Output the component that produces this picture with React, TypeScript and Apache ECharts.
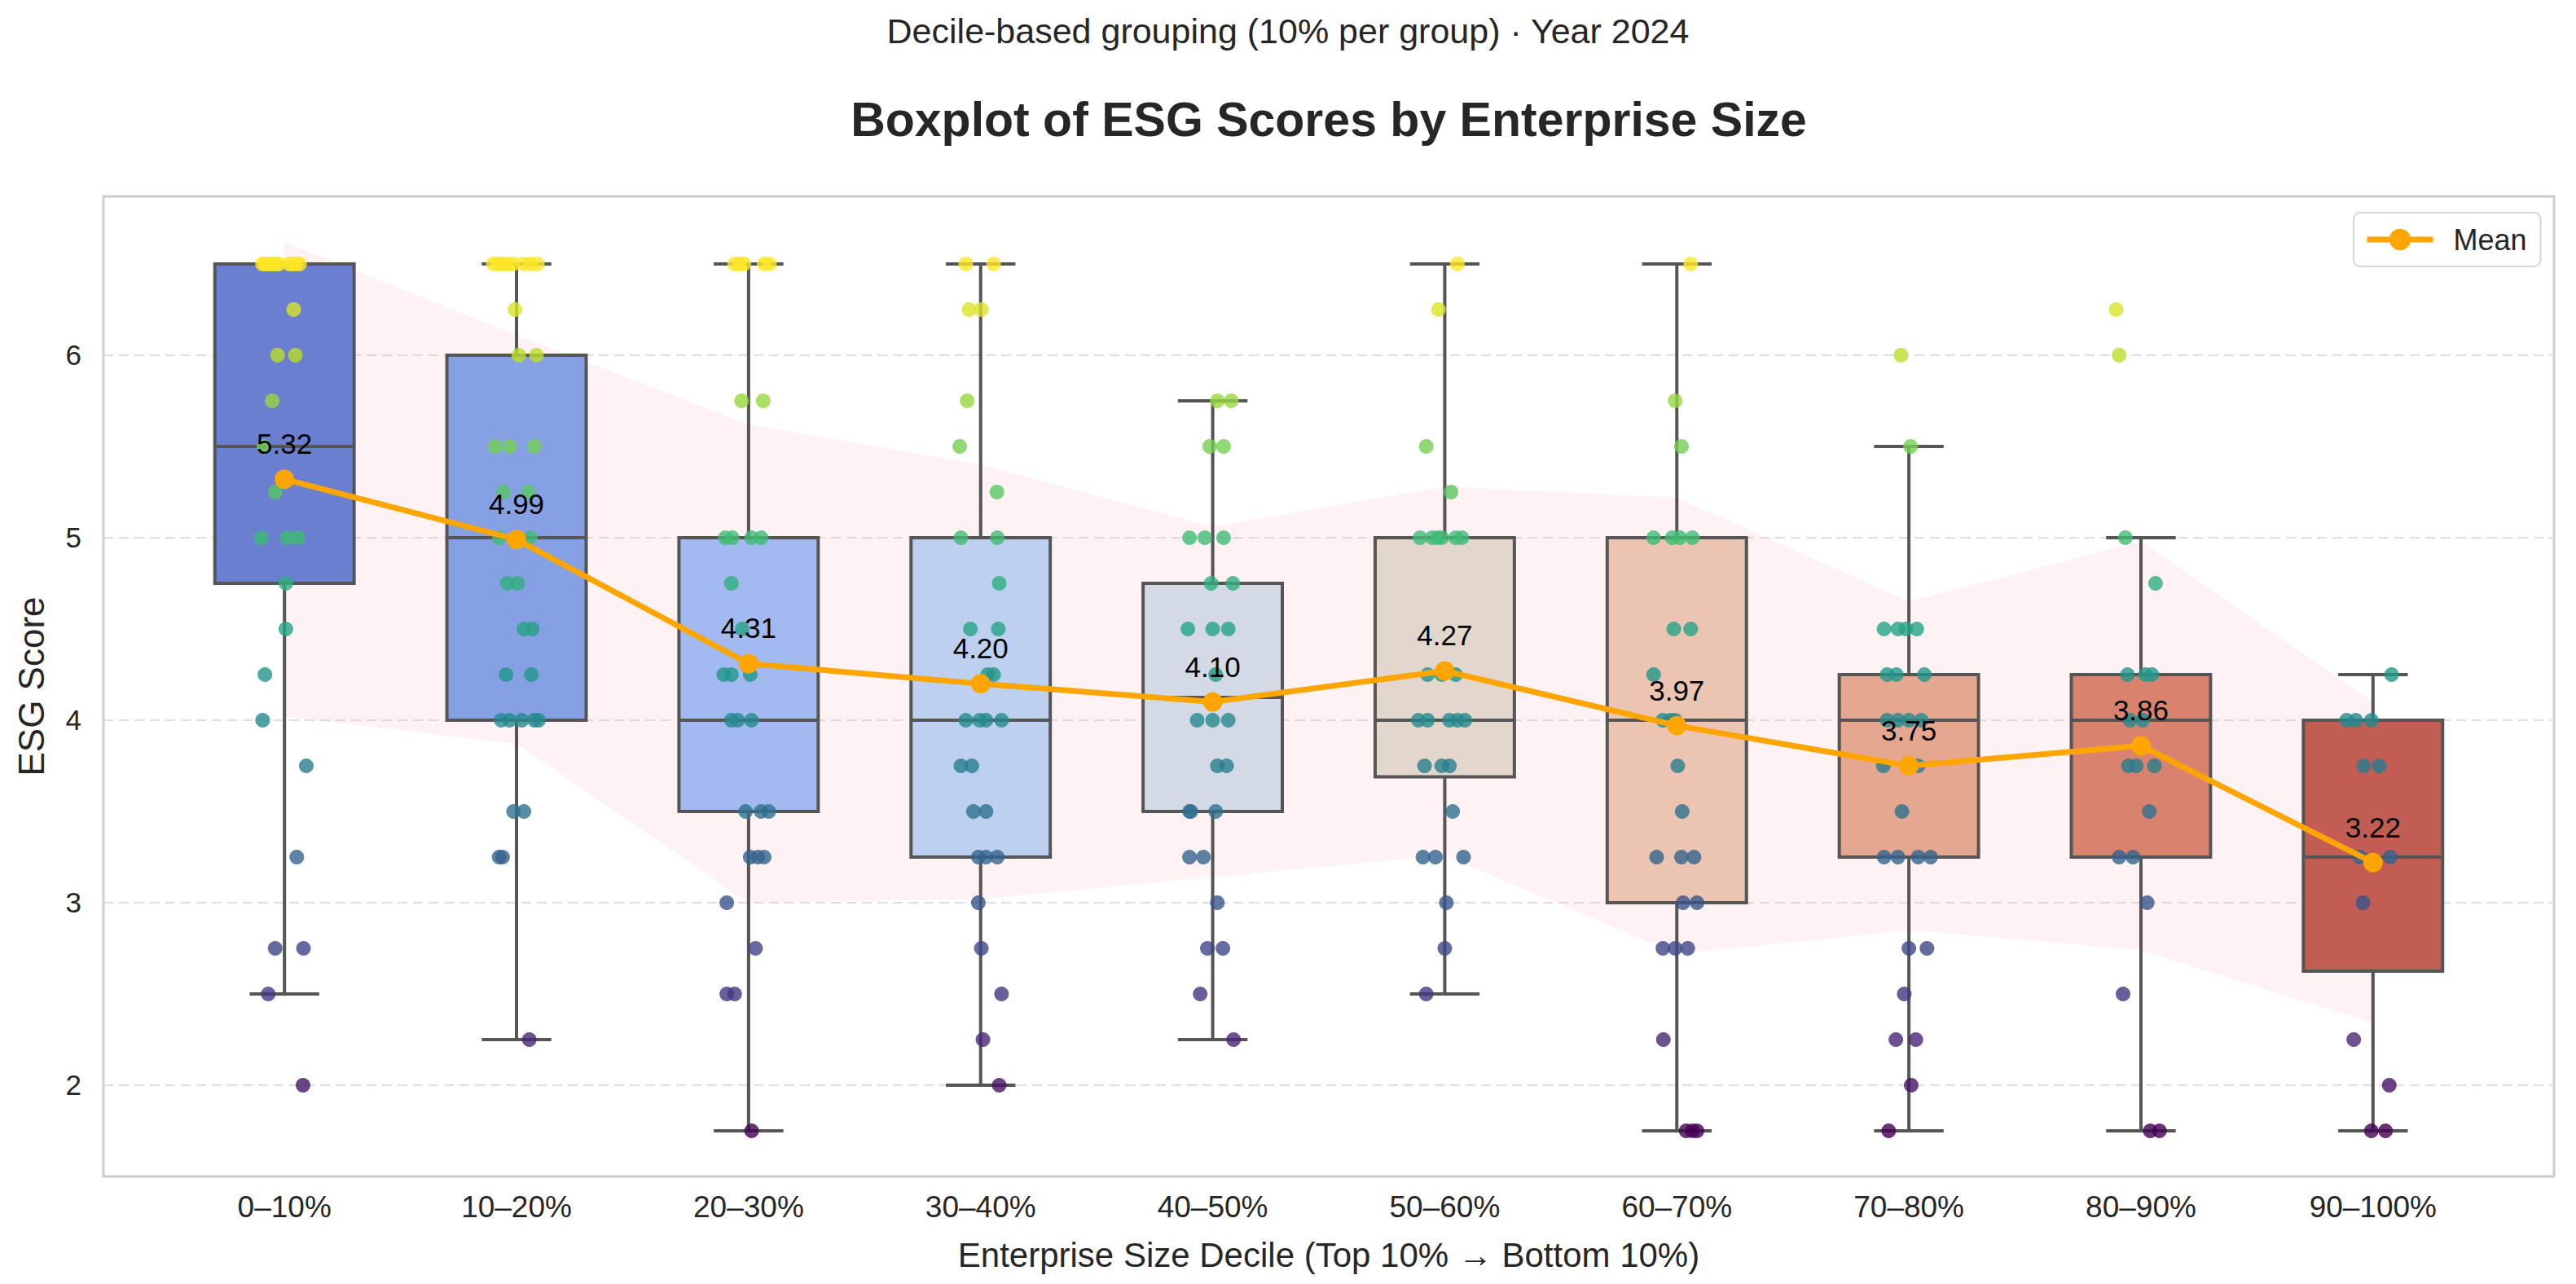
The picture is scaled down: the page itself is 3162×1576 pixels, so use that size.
import React, { useEffect, useRef } from 'react';
import * as echarts from 'echarts';

// deciles on the x axis
const categories = ['0–10%', '10–20%', '20–30%', '30–40%', '40–50%', '50–60%', '60–70%', '70–80%', '80–90%', '90–100%'];

// box statistics per decile
const whiskerLow = [2.5, 2.25, 1.75, 2.0, 2.25, 2.5, 1.75, 1.75, 1.75, 1.75];
const q1 = [4.75, 4.0, 3.5, 3.25, 3.5, 3.69, 3.0, 3.25, 3.25, 2.625];
const median = [5.5, 5.0, 4.0, 4.0, 4.125, 4.0, 4.0, 4.0, 4.0, 3.25];
const q3 = [6.5, 6.0, 5.0, 5.0, 4.75, 5.0, 5.0, 4.25, 4.25, 4.0];
const whiskerHigh = [6.5, 6.5, 6.5, 6.5, 5.75, 6.5, 6.5, 5.5, 5.0, 4.25];

// mean and mean ± std band
const means = [5.32, 4.99, 4.31, 4.2, 4.1, 4.27, 3.97, 3.75, 3.86, 3.22];
const bandUpper = [6.62, 6.11, 5.62, 5.4, 5.06, 5.28, 5.22, 4.65, 4.98, 4.1];
const bandLower = [4.02, 3.87, 3.0, 3.02, 3.14, 3.26, 2.72, 2.85, 2.74, 2.34];

const yTicks = [2, 3, 4, 5, 6];

const boxColors = ['#6b7fd0', '#86a0e4', '#a2baf0', '#bed0f0', '#d3dae6', '#e3d6cc', '#ebc5b2', '#e5a790', '#d9836f', '#c15d52'];
const viridis = ['#440154', '#482878', '#3e4989', '#31688e', '#26828e', '#1f9e89', '#35b779', '#6ece58', '#b5de2b', '#fde725'];

// strip points per decile: [jitter offset, score]
const stripPoints: number[][][] = [
  [
    [-0.095, 6.5], [-0.085, 6.5], [-0.072, 6.5], [-0.06, 6.5], [-0.048, 6.5], [-0.036, 6.5], [-0.025, 6.5],
    [0.02, 6.5], [0.035, 6.5], [0.05, 6.5], [0.065, 6.5],
    [0.04, 6.25], [-0.03, 6.0], [0.047, 6.0], [-0.053, 5.75], [-0.088, 5.5], [-0.04, 5.25],
    [-0.1, 5.0], [0.012, 5.0], [0.058, 5.0], [0.006, 4.75], [0.006, 4.5], [-0.084, 4.25], [-0.094, 4.0],
    [0.094, 3.75], [0.053, 3.25], [-0.04, 2.75], [0.082, 2.75], [-0.07, 2.5], [0.08, 2.0],
  ],
  [
    [-0.1, 6.5], [-0.08, 6.5], [-0.06, 6.5], [-0.035, 6.5], [-0.015, 6.5], [0.03, 6.5], [0.06, 6.5], [0.09, 6.5],
    [-0.007, 6.25], [0.01, 6.0], [0.086, 6.0], [-0.093, 5.5], [-0.03, 5.5], [0.077, 5.5], [-0.057, 5.25], [0.05, 5.25],
    [-0.075, 5.0], [0.059, 5.0], [-0.04, 4.75], [0.005, 4.75], [0.032, 4.5], [0.068, 4.5], [-0.045, 4.25], [0.064, 4.25],
    [-0.066, 4.0], [-0.03, 4.0], [0.023, 4.0], [0.077, 4.0], [0.095, 4.0], [-0.013, 3.5], [0.032, 3.5],
    [-0.075, 3.25], [-0.06, 3.25], [0.055, 2.25],
  ],
  [
    [-0.06, 6.5], [-0.04, 6.5], [-0.02, 6.5], [0.067, 6.5], [0.09, 6.5], [-0.03, 5.75], [0.063, 5.75],
    [-0.1, 5.0], [-0.07, 5.0], [0.013, 5.0], [0.054, 5.0], [-0.074, 4.75], [-0.027, 4.5],
    [-0.107, 4.25], [-0.074, 4.25], [0.007, 4.25], [-0.074, 4.0], [-0.047, 4.0], [0.013, 4.0],
    [-0.013, 3.5], [0.054, 3.5], [0.087, 3.5], [0.007, 3.25], [0.04, 3.25], [0.067, 3.25],
    [-0.094, 3.0], [0.03, 2.75], [-0.094, 2.5], [-0.06, 2.5], [0.013, 1.75],
  ],
  [
    [-0.064, 6.5], [0.056, 6.5], [-0.05, 6.25], [0.003, 6.25], [-0.058, 5.75], [-0.09, 5.5], [0.07, 5.25],
    [-0.085, 5.0], [0.072, 5.0], [0.08, 4.75], [-0.044, 4.5], [0.076, 4.5], [0.03, 4.25], [0.056, 4.25],
    [-0.064, 4.0], [-0.004, 4.0], [0.023, 4.0], [0.09, 4.0], [-0.085, 3.75], [-0.038, 3.75],
    [-0.031, 3.5], [0.023, 3.5], [-0.01, 3.25], [0.023, 3.25], [0.072, 3.25], [-0.01, 3.0],
    [0.003, 2.75], [0.09, 2.5], [0.01, 2.25], [0.08, 2.0],
  ],
  [
    [0.02, 5.75], [0.08, 5.75], [-0.013, 5.5], [0.047, 5.5], [-0.1, 5.0], [-0.034, 5.0], [0.047, 5.0],
    [-0.007, 4.75], [0.087, 4.75], [-0.107, 4.5], [0, 4.5], [0.067, 4.5], [0.013, 4.25],
    [-0.067, 4.0], [0, 4.0], [0.067, 4.0], [0.02, 3.75], [0.06, 3.75], [-0.1, 3.5], [-0.094, 3.5], [0.013, 3.5],
    [-0.1, 3.25], [-0.04, 3.25], [0.02, 3.0], [-0.023, 2.75], [0.044, 2.75], [-0.054, 2.5], [0.09, 2.25],
  ],
  [
    [0.054, 6.5], [-0.027, 6.25], [-0.08, 5.5], [0.027, 5.25], [-0.107, 5.0], [-0.054, 5.0], [-0.03, 5.0],
    [-0.013, 5.0], [0.047, 5.0], [0.074, 5.0], [-0.074, 4.25], [-0.013, 4.25], [0.047, 4.25],
    [-0.114, 4.0], [-0.074, 4.0], [0.02, 4.0], [0.054, 4.0], [0.087, 4.0], [-0.087, 3.75], [-0.013, 3.75], [0.02, 3.75],
    [0.034, 3.5], [-0.094, 3.25], [-0.04, 3.25], [0.081, 3.25], [0.007, 3.0], [0, 2.75], [-0.08, 2.5],
  ],
  [
    [0.06, 6.5], [-0.007, 5.75], [0.02, 5.5], [-0.1, 5.0], [-0.02, 5.0], [0.013, 5.0], [0.067, 5.0],
    [-0.013, 4.5], [0.06, 4.5], [-0.1, 4.25], [-0.06, 4.0], [-0.027, 4.0], [-0.007, 4.0], [0.004, 3.75],
    [0.023, 3.5], [-0.087, 3.25], [0.02, 3.25], [0.074, 3.25], [0.027, 3.0], [0.087, 3.0],
    [-0.06, 2.75], [-0.007, 2.75], [0.047, 2.75], [-0.058, 2.25], [0.04, 1.75], [0.067, 1.75], [0.087, 1.75],
  ],
  [
    [-0.034, 6.0], [0.007, 5.5], [-0.107, 4.5], [-0.047, 4.5], [-0.013, 4.5], [0.034, 4.5],
    [-0.094, 4.25], [-0.054, 4.25], [0.067, 4.25], [-0.094, 4.0], [-0.047, 4.0], [0, 4.0], [0.054, 4.0],
    [-0.11, 3.75], [0.013, 3.75], [0.04, 3.75], [-0.03, 3.5], [-0.107, 3.25], [-0.047, 3.25], [0.04, 3.25], [0.094, 3.25],
    [0, 2.75], [0.078, 2.75], [-0.02, 2.5], [-0.056, 2.25], [0.03, 2.25], [0.01, 2.0], [-0.087, 1.75],
  ],
  [
    [-0.107, 6.25], [-0.094, 6.0], [-0.067, 5.0], [0.063, 4.75], [-0.058, 4.25], [0.02, 4.25], [0.047, 4.25],
    [-0.047, 4.0], [0.007, 4.0], [-0.054, 3.75], [-0.02, 3.75], [0.058, 3.75], [0.036, 3.5],
    [-0.094, 3.25], [-0.034, 3.25], [0.027, 3.0], [-0.077, 2.5], [0.04, 1.75], [0.08, 1.75],
  ],
  [
    [0.08, 4.25], [-0.114, 4.0], [-0.074, 4.0], [-0.007, 4.0], [-0.04, 3.75], [0.027, 3.75],
    [-0.056, 3.25], [0.074, 3.25], [-0.043, 3.0], [-0.083, 2.25], [0.07, 2.0], [-0.007, 1.75], [0.054, 1.75],
  ],
];

const FONT = '"Liberation Sans", Arial, sans-serif';
const TEXT = '#262626';
const EDGE = '#555555';

const App: React.FC = () => {
  const chartRef = useRef<HTMLDivElement>(null);

  useEffect(() => {
    if (!chartRef.current) return;
    const chart = echarts.init(chartRef.current, null, { renderer: 'svg' });

    const boxRows = categories.map((_, i) => [i, whiskerLow[i], q1[i], median[i], q3[i], whiskerHigh[i]]);
    const scatterData = stripPoints.flatMap((pts, i) => pts.map(([dx, v]) => [i + dx, v]));
    const meanData = means.map((m, i) => [i, m]);

    const option: any = {
      animation: false,
      backgroundColor: '#ffffff',
      textStyle: { fontFamily: FONT },
      graphic: [
        {
          type: 'text',
          x: 1581,
          y: 16,
          style: {
            text: 'Decile-based grouping (10% per group) · Year 2024',
            fontSize: 43,
            fontFamily: FONT,
            fill: TEXT,
            align: 'center',
            verticalAlign: 'top',
          },
        },
        {
          type: 'text',
          x: 1631,
          y: 117,
          style: {
            text: 'Boxplot of ESG Scores by Enterprise Size',
            fontSize: 59,
            fontWeight: 'bold',
            fontFamily: FONT,
            fill: TEXT,
            align: 'center',
            verticalAlign: 'top',
          },
        },
      ],
      legend: {
        data: ['Mean'],
        left: 2889,
        top: 261,
        itemWidth: 81,
        itemHeight: 33,
        padding: [15, 17, 15, 13],
        backgroundColor: '#ffffff',
        borderColor: '#d6d6d6',
        borderWidth: 2,
        borderRadius: 8,
        lineStyle: { width: 7 },
        textStyle: { fontSize: 36, color: TEXT, fontFamily: FONT, padding: [0, 0, 0, 20] },
      },
      grid: {
        left: 127,
        top: 241,
        right: 27,
        bottom: 132,
        show: true,
        borderColor: '#cccccc',
        borderWidth: 3,
        backgroundColor: '#ffffff',
      },
      xAxis: {
        type: 'value',
        min: -0.78,
        max: 9.78,
        name: 'Enterprise Size Decile (Top 10% → Bottom 10%)',
        nameLocation: 'middle',
        nameGap: 75,
        nameTextStyle: { fontSize: 42, color: TEXT, fontFamily: FONT },
        axisLine: { show: false },
        axisTick: { show: false },
        splitLine: { show: false },
        axisLabel: {
          customValues: categories.map((_, i) => i),
          formatter: (v: number) => categories[Math.round(v)],
          fontSize: 37,
          color: TEXT,
          margin: 19,
        },
      },
      yAxis: {
        type: 'value',
        min: 1.5,
        max: 6.87,
        name: 'ESG Score',
        nameLocation: 'middle',
        nameGap: 67,
        nameTextStyle: { fontSize: 44, color: TEXT, fontFamily: FONT },
        axisLine: { show: false },
        axisTick: { show: false, customValues: yTicks },
        axisLabel: { customValues: yTicks, fontSize: 35, color: TEXT, margin: 27 },
        splitLine: { show: true, lineStyle: { color: '#dedede', width: 2, type: [12, 7] } },
      },
      visualMap: {
        type: 'continuous',
        show: false,
        seriesIndex: 2,
        dimension: 1,
        min: 1.75,
        max: 6.5,
        inRange: { color: viridis },
      },
      series: [
        {
          type: 'custom',
          name: 'band',
          z: 1,
          silent: true,
          data: [[0, means[0]]],
          renderItem: (_params: any, api: any) => {
            const top = bandUpper.map((u, i) => api.coord([i, u]));
            const bottom = bandLower.map((l, i) => api.coord([i, l])).reverse();
            return {
              type: 'polygon',
              shape: { points: top.concat(bottom) },
              style: { fill: 'rgba(255,192,203,0.2)' },
            };
          },
        },
        {
          type: 'custom',
          name: 'boxes',
          z: 2,
          silent: true,
          data: boxRows,
          renderItem: (_params: any, api: any) => {
            const i = api.value(0);
            const pLo = api.coord([i, api.value(1)]);
            const pA = api.coord([i, api.value(2)]);
            const pMd = api.coord([i, api.value(3)]);
            const pB = api.coord([i, api.value(4)]);
            const pHi = api.coord([i, api.value(5)]);
            const half = api.size([0.6, 0])[0] / 2;
            const cap = half / 2;
            const x = pLo[0];
            const st = { stroke: EDGE, lineWidth: 4 };
            return {
              type: 'group',
              children: [
                { type: 'line', shape: { x1: x, y1: pLo[1], x2: x, y2: pA[1] }, style: st },
                { type: 'line', shape: { x1: x, y1: pB[1], x2: x, y2: pHi[1] }, style: st },
                { type: 'line', shape: { x1: x - cap, y1: pLo[1], x2: x + cap, y2: pLo[1] }, style: st },
                { type: 'line', shape: { x1: x - cap, y1: pHi[1], x2: x + cap, y2: pHi[1] }, style: st },
                {
                  type: 'rect',
                  shape: { x: x - half, y: pB[1], width: half * 2, height: pA[1] - pB[1] },
                  style: { fill: boxColors[i], stroke: EDGE, lineWidth: 4 },
                },
                { type: 'line', shape: { x1: x - half, y1: pMd[1], x2: x + half, y2: pMd[1] }, style: st },
              ],
            };
          },
        },
        {
          type: 'scatter',
          name: 'points',
          z: 3,
          symbolSize: 18,
          itemStyle: { opacity: 0.8 },
          data: scatterData,
        },
        {
          type: 'line',
          name: 'Mean',
          z: 4,
          data: meanData,
          symbol: 'circle',
          symbolSize: 24,
          lineStyle: { color: '#ffa500', width: 7 },
          itemStyle: { color: '#ffa500' },
          label: {
            show: true,
            position: 'top',
            distance: 14,
            fontSize: 35,
            color: '#000000',
            fontFamily: FONT,
            formatter: (p: any) => Number(p.value[1]).toFixed(2),
          },
        },
      ],
    };

    chart.setOption(option);

    const handleResize = () => chart.resize();
    window.addEventListener('resize', handleResize);
    return () => {
      window.removeEventListener('resize', handleResize);
      chart.dispose();
    };
  }, []);

  return <div ref={chartRef} style={{ position: 'fixed', left: 0, top: 0, width: '100vw', height: '100vh' }} />;
};

export default App;
